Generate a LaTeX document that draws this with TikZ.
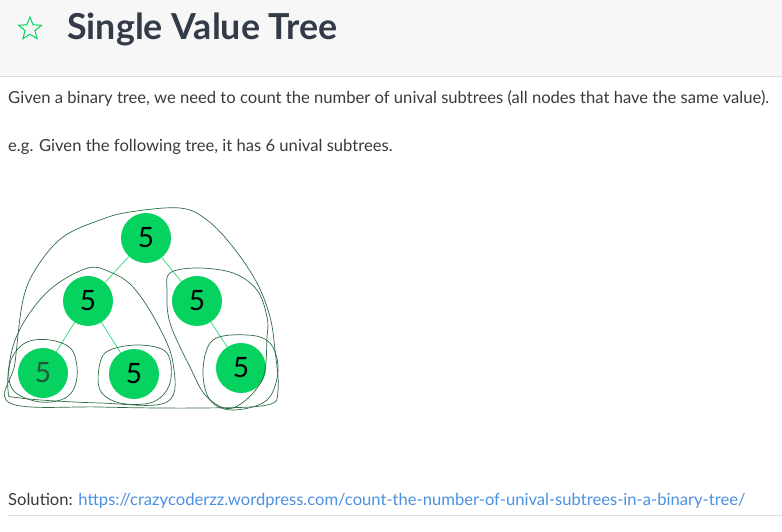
\documentclass[tikz,border=0pt]{standalone}
\usepackage{fontspec}
\usepackage{xcolor}
\setmainfont{Lato}
\usetikzlibrary{shapes.geometric}
\definecolor{nodegreen}{HTML}{05D25F}
\definecolor{edgegreen}{HTML}{3DDC84}
\definecolor{loopgreen}{HTML}{2F6B47}
\definecolor{headbg}{HTML}{F7F7F7}
\definecolor{titlegray}{HTML}{343B48}
\definecolor{bodygray}{HTML}{3A3A3A}
\definecolor{linkblue}{HTML}{4A90E2}
\definecolor{rulegray}{HTML}{DDDDDD}

\begin{document}
\begin{tikzpicture}[x=1pt,y=-1pt,
		treenode/.style={circle,fill=nodegreen,minimum size=50pt,inner sep=0pt,font=\fontsize{28}{28}\selectfont},
		treeedge/.style={edgegreen,line width=0.8pt},
		handloop/.style={loopgreen,line width=0.7pt},
		bodytext/.style={anchor=base west,inner sep=0pt,text=bodygray,font=\fontsize{16.6}{18}\selectfont}]
	\useasboundingbox (0,0) rectangle (782,532);
	% header
	\fill[headbg] (0,0) rectangle (782,76);
	\draw[rulegray] (0,76.5) -- (782,76.5);
	\node[star,star points=5,star point ratio=2.3,draw=nodegreen,line width=1pt,minimum size=24pt,inner sep=0pt] (star) at (30,29) {};
	\node[anchor=base west,inner sep=0pt,text=titlegray,font=\fontsize{35.8}{36}\selectfont\bfseries] (title) at (67,40) {Single Value Tree};
	% text
	\node[bodytext] (intro) at (8,104) {Given a binary tree, we need to count the number of unival subtrees (all nodes that have the same value).};
	\node[bodytext] (example) at (8,152) {e.g. Given the following tree, it has 6 unival subtrees.};
	% tree
	\node[treenode] (root) at (146,238) {5};
	\node[treenode] (l) at (88,301) {5};
	\node[treenode] (r) at (197,301) {5};
	\node[treenode,text=loopgreen!80!black] (ll) at (43,373) {5};
	\node[treenode] (lr) at (134,374) {5};
	\node[treenode] (rr) at (241,368) {5};
	\draw[treeedge] (root) -- (l);
	\draw[treeedge] (root) -- (r);
	\draw[treeedge] (l) -- (ll);
	\draw[treeedge] (l) -- (lr);
	\draw[treeedge] (r) -- (rr);
	% hand drawn loops
	\draw[handloop] plot[smooth cycle,tension=0.6] coordinates {(10,403) (15,363) (23,300) (37,267) (63,237) (100,220) (130,212) (180,208) (207,220) (233,247) (257,283) (270,317) (275,350) (278,390) (267,405) (200,408) (100,407)};
	\draw[handloop] plot[smooth cycle,tension=0.6] coordinates {(88,268) (53,287) (27,317) (12,350) (8,390) (20,398) (100,403) (167,402) (173,363) (157,323) (133,287) (110,272)};
	\draw[handloop] plot[smooth cycle,tension=0.6] coordinates {(170,273) (197,268) (233,273) (257,290) (267,317) (267,337) (262,380) (233,408) (207,397) (190,367) (170,323) (167,290)};
	\draw[handloop] plot[smooth cycle,tension=0.6] coordinates {(25,343) (50,340) (72,350) (77,377) (67,397) (40,402) (13,390) (10,363)};
	\draw[handloop] plot[smooth cycle,tension=0.6] coordinates {(110,350) (140,345) (167,353) (170,383) (153,402) (120,403) (100,390) (100,363)};
	\draw[handloop] plot[smooth cycle,tension=0.6] coordinates {(213,340) (247,335) (270,343) (278,370) (267,400) (233,410) (210,400) (203,370)};
	% footer
	\node[bodytext] (solution) at (8,505) {Solution: \textcolor{linkblue}{https://crazycoderzz.wordpress.com/count-the-number-of-unival-subtrees-in-a-binary-tree/}};
	\draw[rulegray] (8,515.5) -- (782,515.5);
\end{tikzpicture}
\end{document}
